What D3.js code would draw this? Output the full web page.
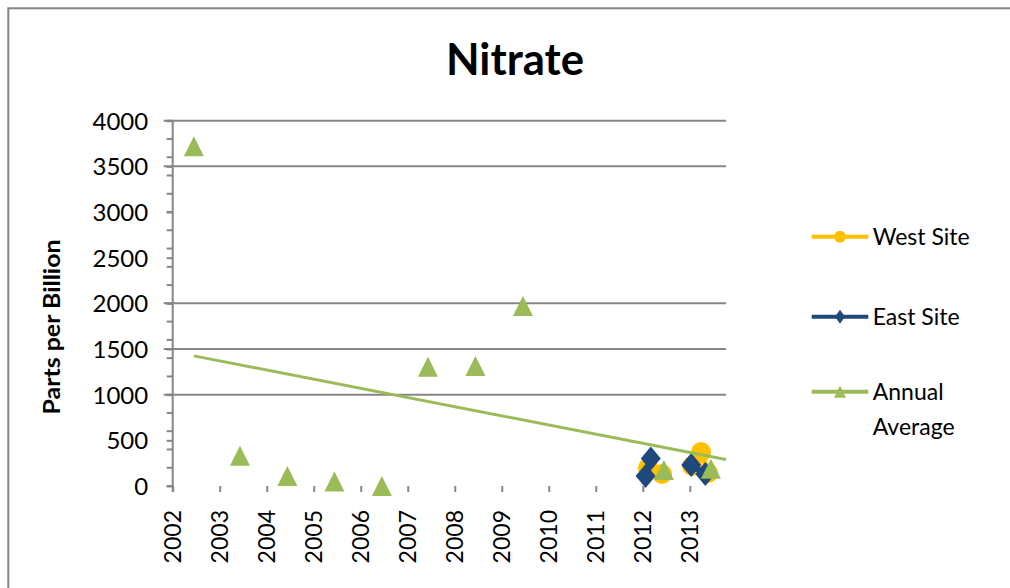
<!DOCTYPE html>
<html>
<head>
<meta charset="utf-8">
<script src="https://cdn.jsdelivr.net/npm/d3@7"></script>
<style>
  body { margin: 0; background: #fff; }
  text { font-family: Lato, "Open Sans", sans-serif; fill: #000; }
</style>
</head>
<body>
<svg id="chart" width="1010" height="588"></svg>
<script>
// values
const annualYears = [2002.45, 2003.43, 2004.44, 2005.44, 2006.45, 2007.43, 2008.44, 2009.45, 2012.45, 2013.45];
const annualValues = [3720, 330, 110, 50, 0, 1305, 1315, 1970, 175, 190];

// null = gap between sampling years
const westYears = [2012.11, 2012.41, null, 2013.05, 2013.24, 2013.39];
const westValues = [197, 131, null, 219, 372, 142];

const eastYears = [2012.17, 2012.06, null, 2013.03, 2013.33];
const eastValues = [300, 110, null, 230, 131];

const trendYears = [2002.45, 2013.77];
const trendValues = [1425, 290];

const yearTicks = [2002, 2003, 2004, 2005, 2006, 2007, 2008, 2009, 2010, 2011, 2012, 2013];
const yTicks = [0, 500, 1000, 1500, 2000, 2500, 3000, 3500, 4000];
const gridValues = [1000, 1500, 2000, 3500, 4000];

const legendNames = ["West Site", "East Site", "Annual|Average"];

const yellow = "#FFC000", blue = "#1F497D", green = "#9BBB59", grey = "#868686";

var svg = d3.select("#chart");

var x = d3.scaleLinear().domain([2002, 2013.77]).range([172.7, 726]);
var y = d3.scaleLinear().domain([0, 4000]).range([486, 120.7]);

// chart frame
svg.append("rect")
	.attr("x", 8.3).attr("y", 8.3)
	.attr("width", 1100).attr("height", 700)
	.attr("fill", "none").attr("stroke", grey).attr("stroke-width", 2);

// title
svg.append("text")
	.attr("x", 515).attr("y", 75)
	.attr("text-anchor", "middle")
	.attr("font-size", 43).attr("font-weight", "bold")
	.attr("textLength", 138).attr("lengthAdjust", "spacingAndGlyphs")
	.text("Nitrate");

// gridlines
svg.append("g").selectAll("line")
	.data(gridValues)
	.enter().append("line")
	.attr("x1", x(2002) - 9).attr("x2", x.range()[1])
	.attr("y1", d => y(d)).attr("y2", d => y(d))
	.attr("stroke", grey).attr("stroke-width", 2);

// y axis
var yAxis = d3.axisLeft(y).tickValues(yTicks).tickSize(6).tickFormat(d3.format("d"));
var gy = svg.append("g").attr("transform", "translate(" + x(2002) + ",0)").call(yAxis);
gy.select(".domain").remove();
gy.selectAll(".tick line").attr("stroke", grey).attr("stroke-width", 2);
gy.selectAll(".tick text")
	.attr("x", -24.5).attr("dy", "0.35em")
	.attr("font-size", 24).attr("font-family", "Lato, sans-serif");

// minor y ticks
svg.append("g").selectAll("line")
	.data(d3.range(0, 4001, 200))
	.enter().append("line")
	.attr("x1", x(2002) - 6).attr("x2", x(2002))
	.attr("y1", d => y(d)).attr("y2", d => y(d))
	.attr("stroke", grey).attr("stroke-width", 2);

svg.append("line")
	.attr("x1", x(2002)).attr("x2", x(2002))
	.attr("y1", y(4000)).attr("y2", y(0) + 6)
	.attr("stroke", grey).attr("stroke-width", 2);

// x axis (ticks and labels only)
var xAxis = d3.axisBottom(x).tickValues(yearTicks).tickSize(6).tickFormat(d3.format("d"));
var gx = svg.append("g").attr("transform", "translate(0," + y(0) + ")").call(xAxis);
gx.select(".domain").remove();
gx.selectAll(".tick line").attr("stroke", grey).attr("stroke-width", 2);
gx.selectAll(".tick text")
	.attr("font-size", 23).attr("font-family", "Lato, sans-serif")
	.attr("text-anchor", "end")
	.attr("x", 0).attr("y", 0).attr("dy", "0.35em")
	.attr("transform", "translate(0,24) rotate(-90)");

// y axis title
svg.append("text")
	.attr("transform", "translate(60,327) rotate(-90)")
	.attr("text-anchor", "middle")
	.attr("font-size", 23).attr("font-weight", "bold")
	.attr("textLength", 175).attr("lengthAdjust", "spacingAndGlyphs")
	.text("Parts per Billion");

// marker shapes
function triangle(s) { return "M0," + (-s) + "L" + s + "," + s + "L" + (-s) + "," + s + "Z"; }
function diamond(w, h) { return "M0," + (-h) + "L" + w + ",0L0," + h + "L" + (-w) + ",0Z"; }

function series(years, values) {
	return years.map((d, i) => ({ x: d, v: values[i] }));
}

var lineGen = d3.line()
	.defined(d => d.x !== null)
	.x(d => x(d.x)).y(d => y(d.v));

// West Site
var west = series(westYears, westValues);
svg.append("path").datum(west)
	.attr("d", lineGen).attr("fill", "none")
	.attr("stroke", yellow).attr("stroke-width", 5);
svg.append("g").selectAll("circle")
	.data(west.filter(d => d.x !== null))
	.enter().append("circle")
	.attr("cx", d => x(d.x)).attr("cy", d => y(d.v)).attr("r", 10)
	.attr("fill", yellow);

// East Site
var east = series(eastYears, eastValues);
svg.append("path").datum(east)
	.attr("d", lineGen).attr("fill", "none")
	.attr("stroke", blue).attr("stroke-width", 6);
svg.append("g").selectAll("path")
	.data(east.filter(d => d.x !== null))
	.enter().append("path")
	.attr("d", diamond(10, 12))
	.attr("transform", d => "translate(" + x(d.x) + "," + y(d.v) + ")")
	.attr("fill", blue);

// Annual Average
var annual = series(annualYears, annualValues);
svg.append("g").selectAll("path")
	.data(annual)
	.enter().append("path")
	.attr("d", triangle(10))
	.attr("transform", d => "translate(" + x(d.x) + "," + y(d.v) + ")")
	.attr("fill", green);

// linear trend
svg.append("path").datum(series(trendYears, trendValues))
	.attr("d", lineGen).attr("fill", "none")
	.attr("stroke", green).attr("stroke-width", 3);

// legend
var legendY = [236.7, 316.7, 391.7];
var lg = svg.append("g");
var legendColors = [yellow, blue, green];
legendNames.forEach(function(name, i) {
	var ly = legendY[i];
	lg.append("line")
		.attr("x1", 811.7).attr("x2", 868.3)
		.attr("y1", ly).attr("y2", ly)
		.attr("stroke", legendColors[i]).attr("stroke-width", 4);
	var m;
	if (i == 0) m = lg.append("circle").attr("r", 6).attr("cx", 840).attr("cy", ly);
	else if (i == 1) m = lg.append("path").attr("d", diamond(5, 7)).attr("transform", "translate(840," + ly + ")");
	else m = lg.append("path").attr("d", triangle(6)).attr("transform", "translate(840," + ly + ")");
	m.attr("fill", legendColors[i]);
	name.split("|").forEach(function(part, j) {
		lg.append("text")
			.attr("x", 872.7).attr("y", ly + 8.5 + j * 34.5)
			.attr("font-size", 23)
			.text(part);
	});
});
</script>
</body>
</html>
